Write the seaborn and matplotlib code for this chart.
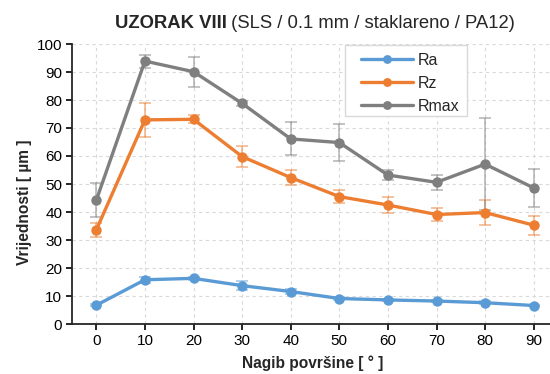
import numpy as np
import pandas as pd
import matplotlib
matplotlib.use("Agg")
import matplotlib.pyplot as plt
from matplotlib.patches import Rectangle
import seaborn as sns

# Surface inclination angles [deg]
angles = [0, 10, 20, 30, 40, 50, 60, 70, 80, 90]

# Roughness parameters [um] and their standard deviations
ra = [6.7, 15.8, 16.3, 13.7, 11.6, 9.1, 8.6, 8.2, 7.6, 6.6]
ra_err = [0.4, 1.0, 0.5, 1.5, 0.8, 0.4, 0.4, 0.4, 0.6, 0.3]
rz = [33.6, 72.9, 73.1, 59.8, 52.3, 45.5, 42.5, 39.1, 39.8, 35.3]
rz_err = [2.4, 6.0, 1.4, 3.8, 2.8, 2.4, 2.8, 2.4, 4.5, 3.4]
rmax = [44.2, 93.9, 90.1, 78.8, 66.1, 64.8, 53.2, 50.6, 57.1, 48.6]
rmax_err = [6.1, 2.3, 5.4, 1.0, 5.9, 6.7, 1.9, 2.7, 16.4, 6.9]

series = ["Ra", "Rz", "Rmax"]
colors = {"Ra": "#5B9BD5", "Rz": "#ED7D31", "Rmax": "#7F7F7F"}

df = pd.DataFrame({
    "angle": angles * 3,
    "value": ra + rz + rmax,
    "err": ra_err + rz_err + rmax_err,
    "param": [s for s in series for _ in angles],
})

sns.set_theme(style="white")
plt.rcParams["font.family"] = ["Liberation Sans", "DejaVu Sans"]

W, H = 550, 374
fig = plt.figure(figsize=(W / 100, H / 100), dpi=100)
ax = fig.add_axes([72 / W, 50 / H, 486 / W, 280 / H])

# error bars underneath the lines
for s in series:
    d = df[df["param"] == s]
    ax.errorbar(d["angle"], d["value"], yerr=d["err"], fmt="none",
                ecolor=colors[s], alpha=0.5, elinewidth=1.3,
                capsize=4, capthick=1.3, zorder=2)

sns.lineplot(data=df, x="angle", y="value", hue="param", palette=colors,
             hue_order=series, marker="o", markersize=7.5, markeredgewidth=0,
             linewidth=2.4, ax=ax, zorder=3, legend=True)

ax.set_xlim(-5, 95)
ax.set_ylim(0, 100)
ax.set_xticks(angles)
ax.set_yticks(np.arange(0, 101, 10))
ax.tick_params(axis="both", labelsize=11, colors="#000000", length=4,
               width=1.2, direction="out", left=True, bottom=True)
ax.tick_params(axis="x", pad=3)
ax.tick_params(axis="y", pad=3)

ax.grid(True, color="#D9D9D9", linestyle=(0, (3, 3)), linewidth=0.8)
ax.set_axisbelow(True)
for sp in ["top", "right"]:
    ax.spines[sp].set_visible(False)
for sp in ["left", "bottom"]:
    ax.spines[sp].set_color("#262626")
    ax.spines[sp].set_linewidth(1.3)

ax.set_xlabel("")
ax.set_ylabel("")
fig.text(313 / W, 1 - 363 / H, "Nagib površine [ ° ]", fontsize=11.2,
         fontweight="bold", ha="center", va="center")
fig.text(25 / W, 1 - 202 / H, "Vrijednosti [ µm ]", rotation=90,
         fontsize=11.2, fontweight="bold", ha="center", va="center")

# title: bold sample id followed by regular description
t1 = fig.text(0, 1 - 24 / H, "UZORAK VIII", fontsize=13.3, fontweight="bold",
              ha="left", va="center")
t2 = fig.text(0, 1 - 24 / H, " (SLS / 0.1 mm / staklareno / PA12)",
              fontsize=13.3, ha="left", va="center")
fig.canvas.draw()
r = fig.canvas.get_renderer()
w1 = t1.get_window_extent(r).width
w2 = t2.get_window_extent(r).width
x0 = 315 - (w1 + w2) / 2
t1.set_x(x0 / W)
t2.set_x((x0 + w1) / W)

# legend box
ax.add_patch(Rectangle((345 / W, 1 - 116 / H), 122 / W, 71 / H,
                       transform=fig.transFigure, facecolor="white",
                       edgecolor="#D9D9D9", linewidth=1.0, zorder=4,
                       clip_on=False))
leg = ax.legend(loc="upper left",
                bbox_to_anchor=((361 - 72) / 486, (324 - 53) / 280),
                fontsize=11.5, frameon=False, borderpad=0,
                handlelength=3.25, handletextpad=0.3, labelspacing=0.5,
                borderaxespad=0, markerscale=0.85)
leg.set_zorder(5)

fig.savefig("out.png", dpi=100)
